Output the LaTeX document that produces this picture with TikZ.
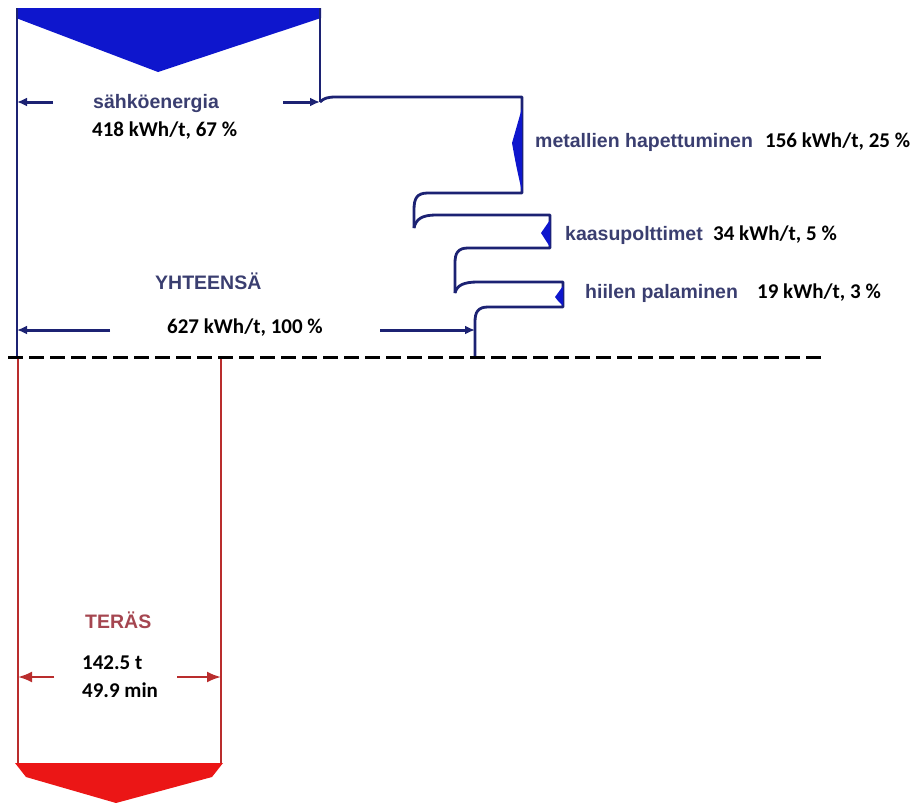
\documentclass[tikz,border=0pt]{standalone}
\usepackage{fontspec}
\setmainfont{Carlito}
\newfontfamily\labfont{Liberation Sans}
\usetikzlibrary{arrows.meta}
\definecolor{flowblue}{RGB}{28,34,115}
\definecolor{fillblue}{RGB}{14,22,205}
\definecolor{namecol}{RGB}{58,62,112}
\definecolor{flowred}{RGB}{185,45,45}
\definecolor{fillred}{RGB}{235,22,22}
\definecolor{terascol}{RGB}{165,70,80}
\begin{document}
\begin{tikzpicture}[x=1pt,y=-1pt,
  flow/.style={draw=flowblue,line width=2.8pt,line join=round},
  redflow/.style={draw=flowred,line width=2.4pt},
  barrow/.style={draw=flowblue,fill=flowblue,line width=3pt,-{Latex[length=10pt,width=9pt]}},
  rarrow/.style={draw=flowred,fill=flowred,line width=2.2pt,-{Latex[length=14pt,width=11pt]}},
  lbl/.style={font=\labfont\bfseries\fontsize{19.5}{23}\selectfont,text=namecol,inner sep=0pt,anchor=west},
  val/.style={font=\bfseries\fontsize{21}{25}\selectfont,inner sep=0pt,anchor=west},
  spike/.style={fill=fillblue}
]
\useasboundingbox (0,0) rectangle (922,803);

% coordinates
\coordinate (topL) at (17,8);
\coordinate (topR) at (320,8);
\coordinate (baseL) at (17,357);
\coordinate (eL) at (17,102);
\coordinate (eLs) at (53,102);
\coordinate (eR) at (320,102);
\coordinate (eRs) at (283,102);
\coordinate (tL) at (17,330);
\coordinate (tLs) at (110,330);
\coordinate (tR) at (475,330);
\coordinate (tRs) at (380,330);
\coordinate (hook1) at (414,228);
\coordinate (hook2) at (455,293);
\coordinate (baseR) at (475,357);

% top blue input
\fill[fillblue] (16,8) -- (321,8) -- (321,18) -- (158,72) -- (16,18) -- cycle;
\draw[flow] (topL) -- (baseL);
\draw[flow] (topR) -- (eR);

% branches
\draw[flow] (eR) .. controls (324,98) and (328,97) .. (336,97) -- (522,97) -- (522,193)
  -- (428,193) .. controls (417,193) and (414,198) .. (414,210) -- (hook1);
\draw[flow] (hook1) .. controls (416,219) and (422,215) .. (436,215) -- (550,215) -- (550,248)
  -- (468,248) .. controls (458,248) and (455,253) .. (455,263) -- (hook2);
\draw[flow] (hook2) .. controls (457,285) and (464,282) .. (478,282) -- (563,282) -- (563,307)
  -- (488,307) .. controls (478,307) and (475,312) .. (475,322) -- (baseR);

% spikes
\fill[spike] (522,108) .. controls (518,122) .. (512,143) .. controls (516,165) .. (522,192) -- cycle;
\fill[spike] (550,220) .. controls (546,226) .. (541,233) .. controls (545,240) .. (550,247) -- cycle;
\fill[spike] (563,286) .. controls (559,291) .. (555,297) .. controls (558,301) .. (563,306) -- cycle;

% blue arrows
\draw[barrow] (eLs) -- (eL);
\draw[barrow] (eRs) -- (eR);
\draw[barrow] (tLs) -- (tL);
\draw[barrow] (tRs) -- (tR);

% dashed line
\coordinate (dA) at (8,357);
\coordinate (dB) at (825,357);
\draw[line width=3pt,dash pattern=on 15pt off 6pt] (dA) -- (dB);

% red output
\coordinate (rTL) at (18,359);
\coordinate (rBL) at (18,764);
\coordinate (rTR) at (221,359);
\coordinate (rBR) at (221,764);
\draw[redflow] (rTL) -- (rBL);
\draw[redflow] (rTR) -- (rBR);
\fill[fillred] (15,763) -- (223,763) -- (212,777) -- (116,803) -- (26,777) -- cycle;
\coordinate (sL) at (18,677);
\coordinate (sLs) at (54,677);
\coordinate (sR) at (221,677);
\coordinate (sRs) at (177,677);
\draw[rarrow] (sLs) -- (sL);
\draw[rarrow] (sRs) -- (sR);

% labels
\node[lbl] (nE) at (93,104) {sähköenergia};
\node[val] (vE) at (92,131) {418 kWh/t, 67 \%};
\node[lbl] (nT) at (155,281) {YHTEENSÄ};
\node[val] (vT) at (167,328) {627 kWh/t, 100 \%};
\node[lbl] (nM) at (535,142) {metallien hapettuminen};
\node[val] (vM) at (765,142) {156 kWh/t, 25 \%};
\node[lbl] (nK) at (565,235) {kaasupolttimet};
\node[val] (vK) at (713,235) {34 kWh/t, 5 \%};
\node[lbl] (nH) at (585,293) {hiilen palaminen};
\node[val] (vH) at (757,293) {19 kWh/t, 3 \%};
\node[lbl,text=terascol] (nS) at (85,620) {TERÄS};
\node[val] (vS1) at (82,663) {142.5 t};
\node[val] (vS2) at (82,690) {49.9 min};
\end{tikzpicture}
\end{document}
